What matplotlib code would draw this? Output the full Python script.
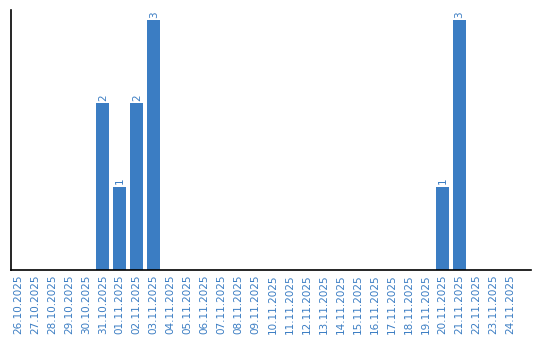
import matplotlib
matplotlib.use("Agg")
import matplotlib.pyplot as plt
import numpy as np

dates = ["26.10.2025", "27.10.2025", "28.10.2025", "29.10.2025", "30.10.2025",
         "31.10.2025", "01.11.2025", "02.11.2025", "03.11.2025", "04.11.2025",
         "05.11.2025", "06.11.2025", "07.11.2025", "08.11.2025", "09.11.2025",
         "10.11.2025", "11.11.2025", "12.11.2025", "13.11.2025", "14.11.2025",
         "15.11.2025", "16.11.2025", "17.11.2025", "18.11.2025", "19.11.2025",
         "20.11.2025", "21.11.2025", "22.11.2025", "23.11.2025", "24.11.2025"]
counts = [0, 0, 0, 0, 0,
          2, 1, 2, 3, 0,
          0, 0, 0, 0, 0,
          0, 0, 0, 0, 0,
          0, 0, 0, 0, 0,
          1, 3, 0, 0, 0]

barColor = "#3b7dc3"

fig = plt.figure(figsize=(5.4, 3.4), dpi=100)
ax = fig.add_axes([11/540, 70/340, 520/540, 260/340])

x = np.arange(len(dates))
ax.bar(x, counts, width=0.78, color=barColor)

for i, c in enumerate(counts):
    if c > 0:
        ax.text(x[i], c + 0.03, str(c), rotation=90, ha="center", va="bottom",
                fontsize=7.5, color=barColor)

ax.set_xticks(x)
ax.set_xticklabels(dates, rotation=90, fontsize=7.5, color=barColor)
ax.tick_params(axis="x", length=0, pad=3)
ax.set_yticks([])
ax.set_xlim(-0.4, 30.2)
ax.set_ylim(0, 3.12)
ax.spines["top"].set_visible(False)
ax.spines["right"].set_visible(False)
ax.spines["left"].set_linewidth(1.2)
ax.spines["bottom"].set_linewidth(1.2)

fig.savefig("out.png", dpi=100)
